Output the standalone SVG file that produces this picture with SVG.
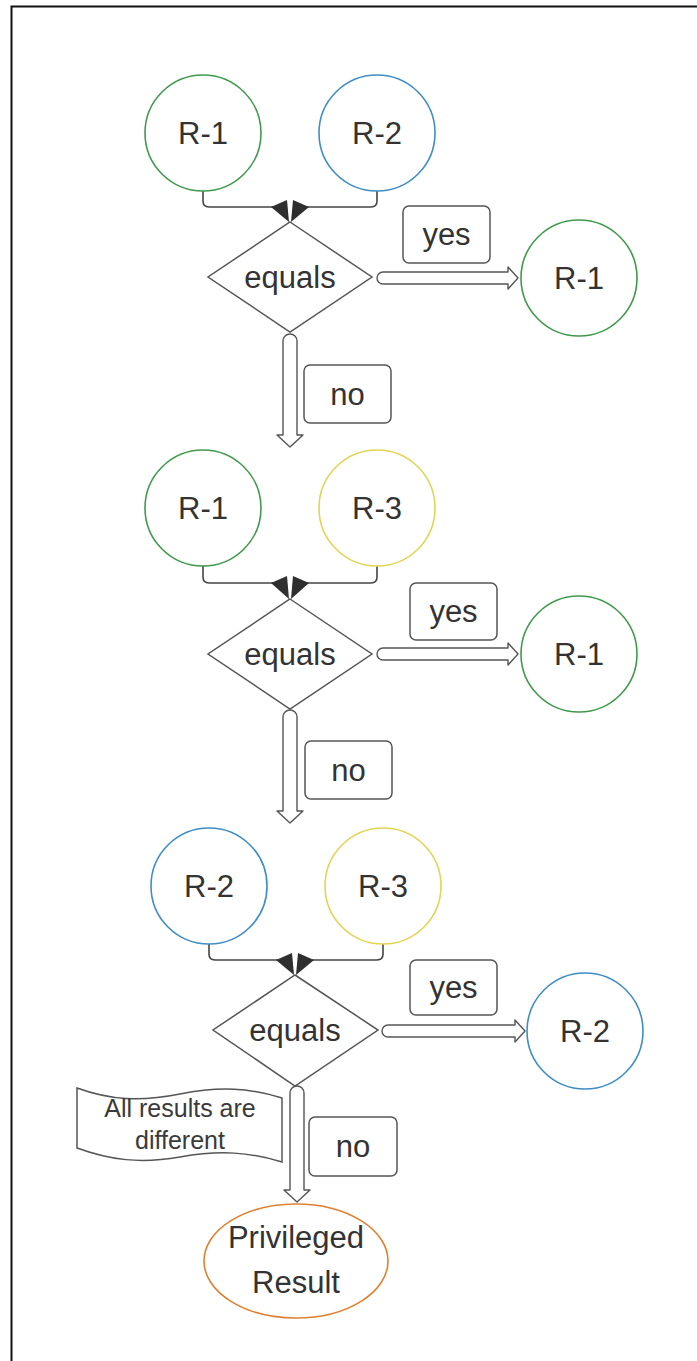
<svg xmlns="http://www.w3.org/2000/svg" width="697" height="1361" viewBox="0 0 697 1361">
  <style>
    .bg { fill: #ffffff; }
    .frame { fill: none; stroke: #111111; stroke-width: 2; }
    .node { fill: #ffffff; stroke-width: 1.6; }
    .green { stroke: #3f9a4c; }
    .blue { stroke: #3f8dc6; }
    .yellow { stroke: #e3d455; }
    .orange { stroke: #e0802f; }
    .shape { fill: #ffffff; stroke: #555555; stroke-width: 1.5; }
    .label { fill: #333333; font-family: "Liberation Sans", Arial, sans-serif; font-size: 31px; text-anchor: middle; dominant-baseline: central; }
    .small { font-size: 25px; fill: #3a3a3a; }
    .wire { fill: none; stroke: #444444; stroke-width: 1.6; }
    .head { fill: #2f2f2f; }
    .block { fill: #ffffff; stroke: #555555; stroke-width: 1.4; stroke-linejoin: round; }
  </style>

  <rect class="bg" x="0" y="0" width="697" height="1361"/>
  <path class="frame" d="M11.5,1361 V6.5 H697"/>

  <!-- connectors -->
  <g id="connectors">
    <!-- stage 1 -->
    <path class="wire" d="M203,191 V201 Q203,207 209,207 H273"/>
    <path class="wire" d="M377,191 V201 Q377,207 371,207 H307"/>
    <polygon class="head" points="271,207 287,200 289,222"/>
    <polygon class="head" points="309,207 293,200 291,222"/>
    <path class="block" d="M383,272 H508 V267 L518,278 L508,289 V284 H383 A6,6 0 0 1 383,272 Z"/>
    <path class="block" d="M283,341 A7,7 0 0 1 297,341 V435 H303 L290,447 L277,435 H283 Z"/>

    <!-- stage 2 -->
    <path class="wire" d="M203,566 V577 Q203,583 209,583 H273"/>
    <path class="wire" d="M377,566 V577 Q377,583 371,583 H307"/>
    <polygon class="head" points="271,583 287,576 289,599"/>
    <polygon class="head" points="309,583 293,576 291,599"/>
    <path class="block" d="M383,648 H508 V643 L518,654 L508,665 V660 H383 A6,6 0 0 1 383,648 Z"/>
    <path class="block" d="M283,717 A7,7 0 0 1 297,717 V811 H303 L290,823 L277,811 H283 Z"/>

    <!-- stage 3 -->
    <path class="wire" d="M209,944 V954 Q209,960 215,960 H278"/>
    <path class="wire" d="M383,944 V954 Q383,960 377,960 H312"/>
    <polygon class="head" points="276,960 292,953 294,975"/>
    <polygon class="head" points="314,960 298,953 296,975"/>
    <path class="block" d="M388,1025 H515 V1020 L525,1031 L515,1042 V1037 H388 A6,6 0 0 1 388,1025 Z"/>
    <path class="block" d="M290,1093 A7,7 0 0 1 304,1093 V1190 H310 L297,1202 L284,1190 H290 Z"/>
  </g>

  <!-- stage 1 -->
  <g id="s1-r1"><circle class="node green" cx="203" cy="133" r="58"/><text class="label" x="203" y="133">R-1</text></g>
  <g id="s1-r2"><circle class="node blue" cx="377" cy="133" r="58"/><text class="label" x="377" y="133">R-2</text></g>
  <g id="s1-equals"><polygon class="shape" points="290,222 372,277 290,332 208,277"/><text class="label" x="290" y="277">equals</text></g>
  <g id="s1-yes"><rect class="shape" x="403" y="206" width="87" height="57" rx="6"/><text class="label" x="446.5" y="234.5">yes</text></g>
  <g id="s1-result"><circle class="node green" cx="579" cy="278" r="58"/><text class="label" x="579" y="278">R-1</text></g>
  <g id="s1-no"><rect class="shape" x="304" y="365" width="87" height="58" rx="6"/><text class="label" x="347.5" y="394">no</text></g>

  <!-- stage 2 -->
  <g id="s2-r1"><circle class="node green" cx="203" cy="508" r="58"/><text class="label" x="203" y="508">R-1</text></g>
  <g id="s2-r3"><circle class="node yellow" cx="377" cy="508" r="58"/><text class="label" x="377" y="508">R-3</text></g>
  <g id="s2-equals"><polygon class="shape" points="290,599 372,654 290,709 208,654"/><text class="label" x="290" y="654">equals</text></g>
  <g id="s2-yes"><rect class="shape" x="410" y="583" width="87" height="57" rx="6"/><text class="label" x="453.5" y="611.5">yes</text></g>
  <g id="s2-result"><circle class="node green" cx="579" cy="654" r="58"/><text class="label" x="579" y="654">R-1</text></g>
  <g id="s2-no"><rect class="shape" x="305" y="741" width="87" height="58" rx="6"/><text class="label" x="348.5" y="770">no</text></g>

  <!-- stage 3 -->
  <g id="s3-r2"><circle class="node blue" cx="209" cy="886" r="58"/><text class="label" x="209" y="886">R-2</text></g>
  <g id="s3-r3"><circle class="node yellow" cx="383" cy="886" r="58"/><text class="label" x="383" y="886">R-3</text></g>
  <g id="s3-equals"><polygon class="shape" points="295,975 378,1030 295,1086 213,1030"/><text class="label" x="295" y="1030">equals</text></g>
  <g id="s3-yes"><rect class="shape" x="410" y="960" width="87" height="55" rx="6"/><text class="label" x="453.5" y="987.5">yes</text></g>
  <g id="s3-result"><circle class="node blue" cx="585" cy="1031" r="58"/><text class="label" x="585" y="1031">R-2</text></g>
  <g id="s3-no"><rect class="shape" x="309" y="1117" width="88" height="59" rx="6"/><text class="label" x="353" y="1146.5">no</text></g>

  <!-- note flag -->
  <g id="note">
    <path class="shape" d="M77,1088 C110,1100 140,1102 180,1094 C220,1086 250,1088 282,1098 L282,1162 C250,1152 220,1150 180,1157 C140,1164 110,1160 77,1148 Z"/>
    <text class="label small" x="180" y="1108">All results are</text>
    <text class="label small" x="180" y="1140">different</text>
  </g>

  <!-- final outcome -->
  <g id="privileged">
    <ellipse class="node orange" cx="296" cy="1261" rx="92" ry="57"/>
    <text class="label" x="296" y="1237">Privileged</text>
    <text class="label" x="296" y="1282">Result</text>
  </g>
</svg>
